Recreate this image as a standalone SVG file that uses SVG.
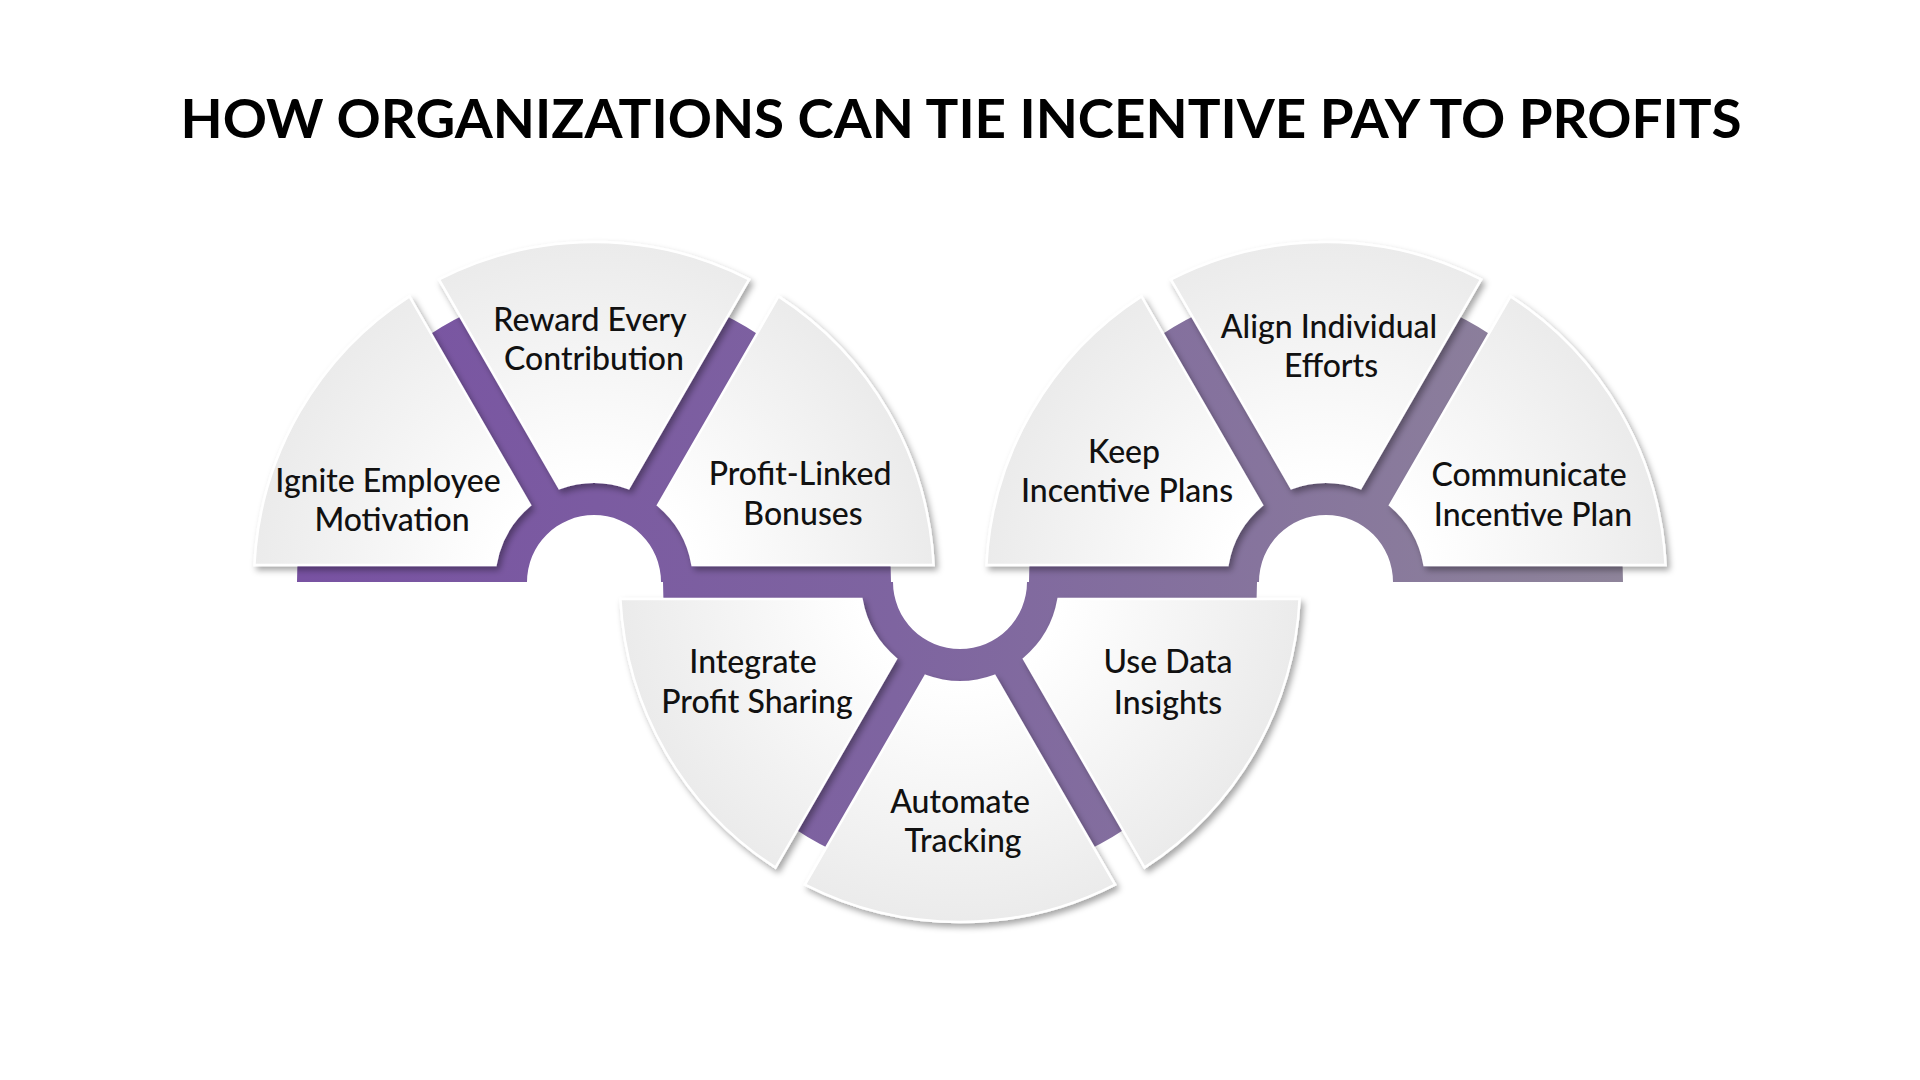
<svg xmlns="http://www.w3.org/2000/svg" width="1920" height="1080" viewBox="0 0 1920 1080">
  <defs>
    <style>
      .title { font-family: Lato, "Liberation Sans", sans-serif; font-weight: 700; font-size: 53px; fill: #000; }
      .lbl { font-family: Lato, "Liberation Sans", sans-serif; font-weight: 500; font-size: 32px; fill: #111; text-anchor: middle; }
      .seg { stroke: #ffffff; stroke-width: 2.5; filter: url(#shadow); }
      .band { fill: url(#purple); }
    </style>
    <linearGradient id="purple" gradientUnits="userSpaceOnUse" x1="297" y1="0" x2="1623" y2="0">
      <stop offset="0" stop-color="#7852A2"/>
      <stop offset="0.45" stop-color="#7E64A0"/>
      <stop offset="1" stop-color="#8E849A"/>
    </linearGradient>
    <radialGradient id="gL" gradientUnits="userSpaceOnUse" cx="594" cy="582" r="340">
      <stop offset="0.3" stop-color="#ffffff"/>
      <stop offset="1" stop-color="#ebebeb"/>
    </radialGradient>
    <radialGradient id="gC" gradientUnits="userSpaceOnUse" cx="960" cy="582" r="340">
      <stop offset="0.3" stop-color="#ffffff"/>
      <stop offset="1" stop-color="#ebebeb"/>
    </radialGradient>
    <radialGradient id="gR" gradientUnits="userSpaceOnUse" cx="1326" cy="582" r="340">
      <stop offset="0.3" stop-color="#ffffff"/>
      <stop offset="1" stop-color="#ebebeb"/>
    </radialGradient>
    <filter id="shadow" x="-20%" y="-20%" width="140%" height="140%">
      <feDropShadow dx="3" dy="4" stdDeviation="3" flood-color="#000" flood-opacity="0.35"/>
    </filter>
  </defs>

  <rect width="1920" height="1080" fill="#ffffff"/>

  <text class="title" x="961" y="138" text-anchor="middle" textLength="1561" lengthAdjust="spacingAndGlyphs">HOW ORGANIZATIONS CAN TIE INCENTIVE PAY TO PROFITS</text>

  <g id="connectors">
    <path class="band" d="M 297,582 A 297 297 0 0 1 891,582 L 661,582 A 67 67 0 0 0 527,582 Z"/>
    <path class="band" d="M 663,582 A 297 297 0 0 0 1257,582 L 1027,582 A 67 67 0 0 1 893,582 Z"/>
    <path class="band" d="M 1029,582 A 297 297 0 0 1 1623,582 L 1393,582 A 67 67 0 0 0 1259,582 Z"/>
  </g>

  <g id="ignite-employee-motivation">
    <path class="seg" fill="url(#gL)" d="M 530.01,505.16 L 409.49,296.42 A 340 340 0 0 0 254.42,565 L 495.46,565 A 100 100 0 0 1 530.01,505.16 Z"/>
    <text class="lbl" x="388" y="492">Ignite Employee</text>
    <text class="lbl" x="392" y="531">Motivation</text>
  </g>

  <g id="reward-every-contribution">
    <path class="seg" fill="url(#gL)" d="M 628.55,488.16 L 749.07,279.42 A 340 340 0 0 0 438.93,279.42 L 559.45,488.16 A 100 100 0 0 1 628.55,488.16 Z"/>
    <text class="lbl" x="590" y="331">Reward Every</text>
    <text class="lbl" x="594" y="370">Contribution</text>
  </g>

  <g id="profit-linked-bonuses">
    <path class="seg" fill="url(#gL)" d="M 692.54,565 L 933.58,565 A 340 340 0 0 0 778.51,296.42 L 657.99,505.16 A 100 100 0 0 1 692.54,565 Z"/>
    <text class="lbl" x="800" y="485">Profit-Linked</text>
    <text class="lbl" x="803" y="525">Bonuses</text>
  </g>

  <g id="integrate-profit-sharing">
    <path class="seg" fill="url(#gC)" d="M 861.46,599 L 620.42,599 A 340 340 0 0 0 775.49,867.58 L 896.01,658.84 A 100 100 0 0 1 861.46,599 Z"/>
    <text class="lbl" x="753" y="673">Integrate</text>
    <text class="lbl" x="757" y="713">Profit Sharing</text>
  </g>

  <g id="automate-tracking">
    <path class="seg" fill="url(#gC)" d="M 925.45,675.84 L 804.93,884.58 A 340 340 0 0 0 1115.07,884.58 L 994.55,675.84 A 100 100 0 0 1 925.45,675.84 Z"/>
    <text class="lbl" x="960" y="813">Automate</text>
    <text class="lbl" x="963" y="852">Tracking</text>
  </g>

  <g id="use-data-insights">
    <path class="seg" fill="url(#gC)" d="M 1023.99,658.84 L 1144.51,867.58 A 340 340 0 0 0 1299.58,599 L 1058.54,599 A 100 100 0 0 1 1023.99,658.84 Z"/>
    <text class="lbl" x="1168" y="673">Use Data</text>
    <text class="lbl" x="1168" y="714">Insights</text>
  </g>

  <g id="keep-incentive-plans">
    <path class="seg" fill="url(#gR)" d="M 1262.01,505.16 L 1141.49,296.42 A 340 340 0 0 0 986.42,565 L 1227.46,565 A 100 100 0 0 1 1262.01,505.16 Z"/>
    <text class="lbl" x="1124" y="463">Keep</text>
    <text class="lbl" x="1127" y="502">Incentive Plans</text>
  </g>

  <g id="align-individual-efforts">
    <path class="seg" fill="url(#gR)" d="M 1360.55,488.16 L 1481.07,279.42 A 340 340 0 0 0 1170.93,279.42 L 1291.45,488.16 A 100 100 0 0 1 1360.55,488.16 Z"/>
    <text class="lbl" x="1329" y="338">Align Individual</text>
    <text class="lbl" x="1331" y="377">Efforts</text>
  </g>

  <g id="communicate-incentive-plan">
    <path class="seg" fill="url(#gR)" d="M 1424.54,565 L 1665.58,565 A 340 340 0 0 0 1510.51,296.42 L 1389.99,505.16 A 100 100 0 0 1 1424.54,565 Z"/>
    <text class="lbl" x="1529" y="486">Communicate</text>
    <text class="lbl" x="1533" y="526">Incentive Plan</text>
  </g>
</svg>
